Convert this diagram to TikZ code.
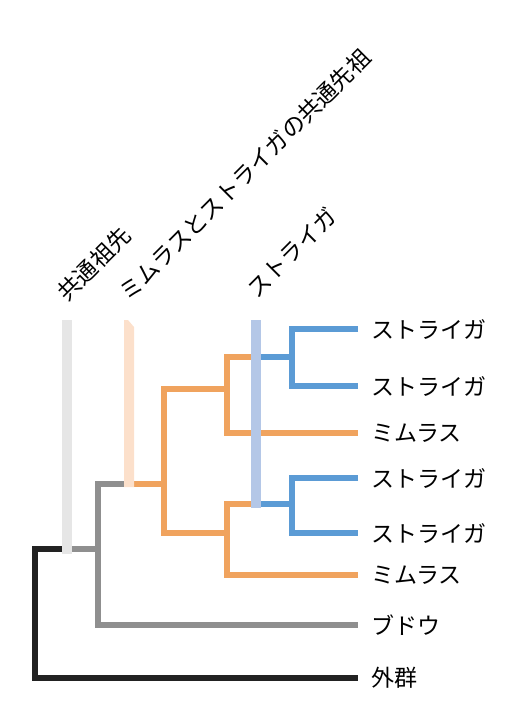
\documentclass[tikz,border=0pt]{standalone}
\usepackage{fontspec}
\setmainfont{Noto Sans CJK JP}
\usetikzlibrary{positioning}

\definecolor{outk}{HTML}{222222}
\definecolor{grpk}{HTML}{8F8F8F}
\definecolor{mimk}{HTML}{F0A35E}
\definecolor{strk}{HTML}{5B9BD5}
\definecolor{cabar}{HTML}{E6E6E6}
\definecolor{mrbar}{HTML}{FCE0CB}
\definecolor{sbbar}{HTML}{B4C7E7}

\begin{document}
\begin{tikzpicture}[x=1pt, y=-1pt,
        branch/.style = {line width=6pt},
        outg/.style = {branch, color=outk},
        grp/.style = {branch, color=grpk},
        mim/.style = {branch, color=mimk},
        stri/.style = {branch, color=strk},
        bar/.style = {minimum width=10pt, inner sep=0pt, outer sep=0pt},
        lab/.style = {inner sep=0pt, font=\fontsize{23}{27}\selectfont},
        rlab/.style = {anchor=south west, rotate=45, inner sep=0pt, font=\fontsize{23}{27}\selectfont}]
        \useasboundingbox (0,0) rectangle (516,710);

        % bars, filled at the end
        \node[bar, minimum height=234pt] (ca) at (67,437) {};
        \node[bar, minimum height=167pt] (mr) at (129,403.5) {};
        \node[bar, minimum height=188pt] (sb) at (256,414) {};

        \coordinate (root) at (35,549);
        \coordinate (j1) at (98,549);
        \coordinate (j2) at (164,484);
        \coordinate (j3) at (227,389);
        \coordinate (j4) at (227,533);
        \coordinate (j5) at (292,357);
        \coordinate (j6) at (292,504);

        \coordinate (s1) at (358,329);
        \coordinate (s2) at (358,386);
        \coordinate (m1) at (358,433);
        \coordinate (s3) at (358,478);
        \coordinate (s4) at (358,533);
        \coordinate (m2) at (358,575);
        \coordinate (bud) at (358,625);
        \coordinate (og) at (358,678);

        \node[lab, right=13pt of s1] (ls1) {ストライガ};
        \node[lab, right=13pt of s2] (ls2) {ストライガ};
        \node[lab, right=13pt of m1] (lm1) {ミムラス};
        \node[lab, right=13pt of s3] (ls3) {ストライガ};
        \node[lab, right=13pt of s4] (ls4) {ストライガ};
        \node[lab, right=13pt of m2] (lm2) {ミムラス};
        \node[lab, right=13pt of bud] (lbud) {ブドウ};
        \node[lab, right=13pt of og] (log) {外群};

        \draw[outg] (ca.west |- root) -- (root) |- (og);

        \draw[grp] (ca.east |- j1) -- (j1);
        \draw[grp] (mr.west |- j2) -| (j1) |- (bud);

        \draw[mim] (mr.east |- j2) -- (j2);
        \draw[mim] (j3) -| (j2) |- (j4);
        \draw[mim] (sb.west |- j5) -| (j3) |- (m1);
        \draw[mim] (sb.west |- j6) -| (j4) |- (m2);

        \draw[stri] (sb.east |- j5) -- (j5);
        \draw[stri] (s1) -| (j5) |- (s2);
        \draw[stri] (sb.east |- j6) -- (j6);
        \draw[stri] (s3) -| (j6) |- (s4);

        \fill[cabar] (ca.south west) rectangle (ca.north east);
        \fill[mrbar] (mr.south west) -- (mr.north west) -- ([xshift=-6pt]mr.north east)
            -- ([yshift=-7pt]mr.north east) -- (mr.south east) -- cycle;
        \fill[sbbar] (sb.south west) rectangle (sb.north east);

        \node[rlab] (tca) at (69,304) {共通祖先};
        \node[rlab] (tmr) at (131,304) {ミムラスとストライガの共通先祖};
        \node[rlab] (tsb) at (258,300) {ストライガ};
    \end{tikzpicture}
\end{document}
